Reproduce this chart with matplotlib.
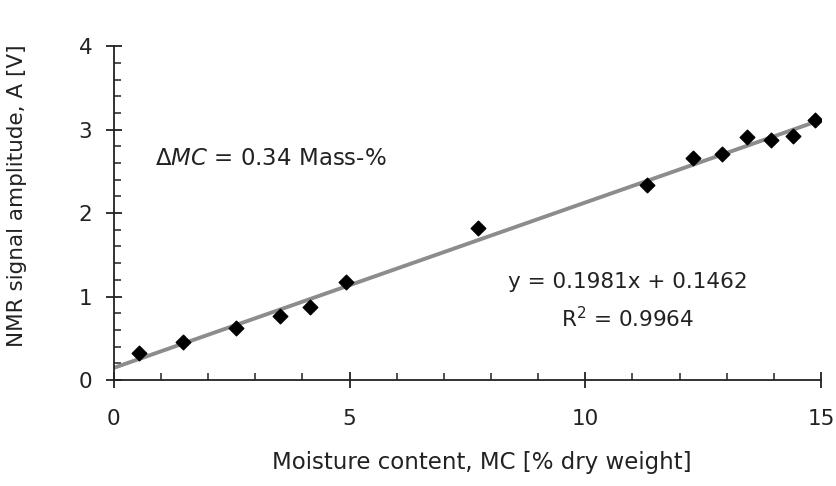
import numpy as np
import matplotlib.pyplot as plt
from matplotlib.ticker import MultipleLocator

# Donnees
mc = [0.54, 1.46, 2.60, 3.52, 4.16, 4.92, 7.73, 11.31, 12.28, 12.89, 13.43, 13.94, 14.40, 14.88]
amp = [0.33, 0.46, 0.62, 0.77, 0.88, 1.17, 1.82, 2.34, 2.66, 2.71, 2.91, 2.87, 2.92, 3.11]

# Droite de regression affichee
slope = 0.1981
intercept = 0.1462
fit_x = [0, 15]

plt.rcParams['font.family'] = ['DejaVu Sans']
plt.rcParams['font.size'] = 15.5

fig = plt.figure(figsize=(8.37, 4.86), dpi=100)
ax = fig.add_axes([0.136, 0.218, 0.845, 0.687])

fx = np.array(fit_x)
ax.plot(fx, slope * fx + intercept, color='#8c8c8c', lw=2.8, zorder=2)
ax.scatter(mc, amp, marker='D', s=55, color='black', zorder=3)

ax.set_xlim(0, 15)
ax.set_ylim(0, 4)
ax.xaxis.set_major_locator(MultipleLocator(5))
ax.xaxis.set_minor_locator(MultipleLocator(1))
ax.yaxis.set_major_locator(MultipleLocator(1))
ax.yaxis.set_minor_locator(MultipleLocator(0.2))

for s in ['top', 'right']:
    ax.spines[s].set_visible(False)
for s in ['left', 'bottom']:
    ax.spines[s].set_linewidth(1.3)
    ax.spines[s].set_color('#222222')

ax.tick_params(which='major', direction='inout', length=11, width=1.3, color='#222222',
               labelcolor='#222222')
ax.tick_params(which='minor', direction='in', length=5, width=1.1, color='#222222')
ax.tick_params(axis='x', which='major', pad=15)
ax.tick_params(axis='y', which='major', pad=10)

ax.set_xlabel('Moisture content, MC [% dry weight]', fontsize=16.5, color='#222222')
ax.set_ylabel('NMR signal amplitude, A [V]', color='#222222')
ax.xaxis.set_label_coords(0.52, -0.213)
ax.yaxis.set_label_coords(-0.123, 0.553)

ax.text(0.87, 2.65, r'$\Delta$$\it{MC}$ = 0.34 Mass-%', va='center', ha='left',
        fontsize=16.5, color='#222222')
ax.text(10.9, 1.18, 'y = 0.1981x + 0.1462', ha='center', va='center', color='#222222')
ax.text(10.9, 0.74, r'R$^2$ = 0.9964', ha='center', va='center', color='#222222')

fig.savefig('out.png', dpi=100)
